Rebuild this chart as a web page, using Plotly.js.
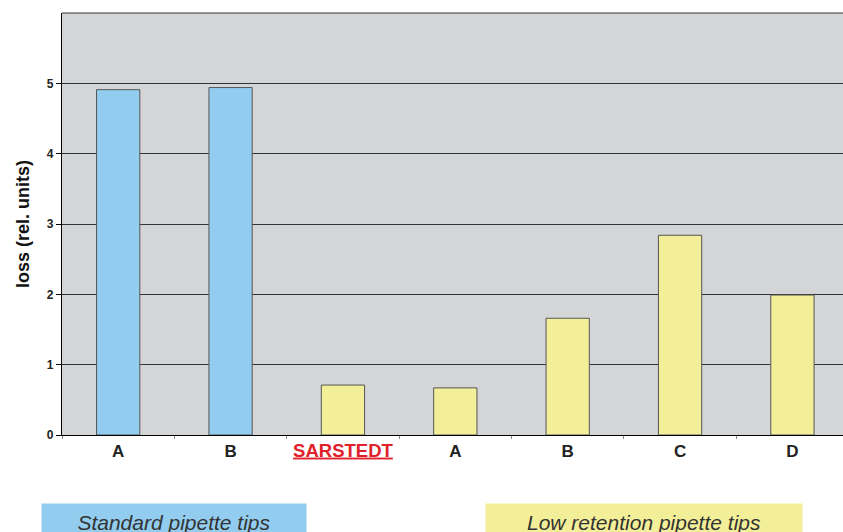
<!DOCTYPE html>
<html>
<head>
<meta charset="utf-8">
<script src="https://cdn.plot.ly/plotly-3.0.1.min.js"></script>
<style>html,body{margin:0;padding:0;background:#fff;}#chart{width:843px;height:532px;}</style>
</head>
<body>
<div id="chart"></div>
<script>
const categories = ["A", "B", "SARSTEDT", "A ", "B ", "C", "D"];
const tickLabels = ["A", "B", "SARSTEDT", "A", "B", "C", "D"];
const values = [4.91, 4.94, 0.71, 0.67, 1.66, 2.84, 1.99];
const groups = ["standard", "standard", "low", "low", "low", "low", "low"];
const groupLabels = ["Standard pipette tips", "Low retention pipette tips"];
const yTicks = [0, 1, 2, 3, 4, 5];

const colorMap = {standard: "#92cdf0", low: "#f3ef98"};

const trace = {
  type: "bar",
  x: categories,
  y: values,
  width: 0.385,
  marker: {color: groups.map(g => colorMap[g]), line: {color: "#555555", width: 1}},
  hoverinfo: "skip"
};

const layout = {
  width: 843, height: 532,
  margin: {l: 62, r: 0, t: 13, b: 97},
  paper_bgcolor: "#ffffff",
  plot_bgcolor: "#d4d5d7",
  showlegend: false,
  font: {family: "Liberation Sans, Arial, sans-serif", color: "#222222"},
  xaxis: {
    type: "category",
    range: [-0.5, 6.45],
    tickvals: categories,
    ticktext: tickLabels.map((t, i) => i === 2
      ? '<span style="color:#e0202a;font-size:18.5px"><u>' + t + '</u></span>' : t),
    tickfont: {size: 17, weight: "bold", color: "#222222"},
    ticks: "outside", ticklen: 3, tickcolor: "#888888", tickson: "boundaries",
    showgrid: false,
    showline: true, linecolor: "#000000", linewidth: 1.2,
    fixedrange: true
  },
  yaxis: {
    range: [0, 6],
    tickvals: yTicks,
    ticktext: yTicks.map(String),
    tickfont: {size: 12, weight: "bold", color: "#222222"},
    ticks: "outside", ticklen: 5, tickcolor: "#000000",
    showgrid: true, gridcolor: "#333333", gridwidth: 1,
    showline: true, linecolor: "#000000", linewidth: 1.2,
    zeroline: false,
    title: {text: "loss (rel. units)", font: {size: 18, weight: "bold", color: "#111111"}, standoff: 12},
    fixedrange: true
  },
  shapes: [{
    type: "line", xref: "paper", yref: "paper", x0: 0, x1: 1, y0: 1, y1: 1,
    line: {color: "#333333", width: 1}
  }],
  annotations: [
    {text: "<i>" + groupLabels[0] + "</i>", xref: "paper", yref: "paper", x: 0.1434, y: -0.161,
     xanchor: "center", yanchor: "top", showarrow: false, width: 262, height: 34,
     bgcolor: "#92cdf0", font: {size: 21, color: "#333333", family: "Liberation Sans, Arial, sans-serif"}},
    {text: "<i>" + groupLabels[1] + "</i>", xref: "paper", yref: "paper", x: 0.7452, y: -0.161,
     xanchor: "center", yanchor: "top", showarrow: false, width: 314, height: 34,
     bgcolor: "#f3ef98", font: {size: 21, color: "#333333", family: "Liberation Sans, Arial, sans-serif"}}
  ]
};

Plotly.newPlot("chart", [trace], layout, {displayModeBar: false, staticPlot: true});
</script>
</body>
</html>
